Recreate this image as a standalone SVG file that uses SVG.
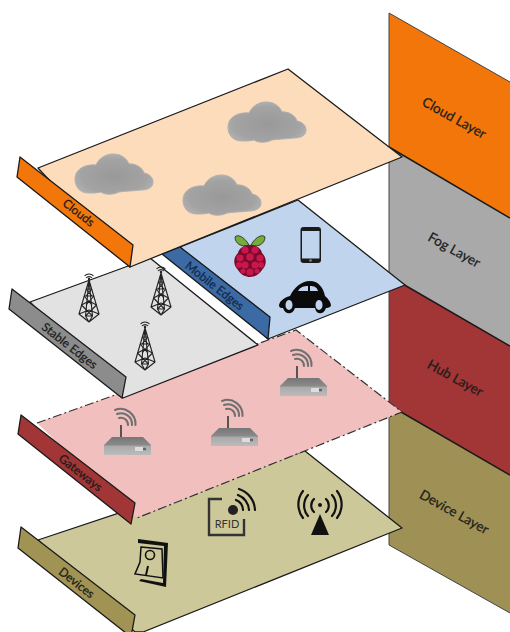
<svg xmlns="http://www.w3.org/2000/svg" width="510" height="632" viewBox="0 0 510 632">
<style>
.e{stroke:#1a1a1a;stroke-width:1.3;stroke-linejoin:round}
.dd{stroke:#333;stroke-width:1.2;stroke-dasharray:9 3 2 3}
.t{font-family:Lato,"Liberation Sans",sans-serif;fill:#1c1c1c;stroke:#1c1c1c;stroke-width:0.25;text-anchor:middle}
.s{font-size:12px}.l{font-size:13.5px}
.tw{fill:none;stroke:#222;stroke-width:1.1;stroke-linejoin:round}
.arc{fill:none;stroke:#6f6f6f;stroke-width:2;stroke-linecap:round}
.k{fill:none;stroke:#111;stroke-width:2.2;stroke-linecap:round}
</style>
<defs>
<radialGradient id="cg" cx="50%" cy="55%" r="60%"><stop offset="0" stop-color="#999"/><stop offset="0.7" stop-color="#a3a3a3"/><stop offset="1" stop-color="#b4b4b4"/></radialGradient>
<linearGradient id="rg" x1="0" y1="0" x2="0" y2="1"><stop offset="0" stop-color="#777"/><stop offset="0.45" stop-color="#8a8a8a"/><stop offset="0.5" stop-color="#aaa"/><stop offset="1" stop-color="#bbb"/></linearGradient>
<symbol id="cloud" overflow="visible">
<path d="M14,39C4,39 0,32 0,25C0,15 10,10 21,11C24,4 31,0 38,0C47,0 52,5 54,10C60,9 68,14 69,19C75,20 78,24 78,28C78,34 72,36 66,36C58,37 50,37 44,38C38,41 30,41 26,38C22,39 18,39 14,39Z" fill="url(#cg)" stroke="#b0b0b0" stroke-width="1"/>
</symbol>
<symbol id="tower" overflow="visible">
<path class="tw" d="M-3,3A4,4 0 0 1 3,3M-4.500,1A6,6 0 0 1 4.500,1"/>
<circle cx="0" cy="4" r="1.200" fill="#222"/>
<path class="tw" d="M0,5L-10,39L0,47L10,39ZM0,5L-3.500,41L0,47L3.500,41Z"/>
<path class="tw" d="M-10,39L0,35L10,39M-3.500,41L3.500,41M-7.500,30L0,26L7.500,30M-7.500,30L3.500,41M7.500,30L-3.500,41M-5,21L5,21M-5,21L3,30M5,21L-3,30M-3,14L3,14M-3,14L3,21M3,14L-3,21"/>
</symbol>
<symbol id="router" overflow="visible">
<path d="M8,0H39L47,8V18H0V8Z" fill="url(#rg)"/>
<rect x="31" y="10" width="11" height="4" fill="#ddd"/><rect x="39" y="10.500" width="3" height="3" fill="#666"/>
<path d="M17,0V-12" stroke="#555" stroke-width="2" fill="none"/>
<path class="arc" d="M15,-19A7,7 0 0 1 24,-12M13,-23A11,11 0 0 1 28,-12M11,-27A15,15 0 0 1 31.500,-12"/>
</symbol>
</defs>

<g id="cloud-layer"><polygon points="389,13 510,82 510,218 389,147" fill="#f2760a"/><text class="t l" transform="translate(452,122) rotate(29)">Cloud Layer</text></g>
<g id="fog-layer"><polygon points="389,147 510,218 510,346 389,276" fill="#a9a9a9"/><text class="t l" transform="translate(452,254) rotate(29)">Fog Layer</text></g>
<g id="hub-layer"><polygon points="389,276 510,346 510,475 389,405" fill="#a23535"/><text class="t l" transform="translate(453,382) rotate(29)">Hub Layer</text></g>
<g id="device-layer"><polygon points="389,405 510,475 510,613 389,545" fill="#9f9155"/><text class="t l" transform="translate(452,516) rotate(29)">Device Layer</text></g>
<g id="layer-dividers" fill="none" stroke="#1a1a1a"><path d="M389,147L510,218M389,276L510,346M389,405L510,475" stroke-width="1.500"/><path d="M389,13L510,82M389,545L510,613M389,13V545" stroke-width="1" stroke="#444"/></g>

<g id="devices">
<polygon class="e" points="38,540 305,451 402,528 143,632 135,632" fill="#cdc89a"/>
<polygon class="e" points="21,527 18,548 131,637 135,615" fill="#a09353"/>
<text class="t s" transform="translate(74,586) rotate(38)">Devices</text>
<g id="switch">
<path d="M138,539L168,543L166,587L139,581L141,579L163,583L164,546L138,543Z" fill="#111"/>
<path d="M141,547L162,549L163,578L135,574L140,562Z" fill="none" stroke="#111" stroke-width="1.500"/>
<circle cx="150" cy="555" r="4.500" fill="none" stroke="#111" stroke-width="1.600"/>
<path d="M148,566L146,575" stroke="#111" stroke-width="2"/>
</g>
<g id="rfid">
<path d="M222,499H209V535H244V519" fill="none" stroke="#333" stroke-width="2.400"/>
<circle cx="233" cy="510" r="5" fill="#222"/>
<path class="k" d="M236,500A11,11 0 0 1 243,510M238,495A17,17 0 0 1 249,510M239,489A23,23 0 0 1 255,510" stroke="#222"/>
<text x="227" y="528" font-family="Lato,'Liberation Sans',sans-serif" font-size="11" fill="#333" text-anchor="middle">RFID</text>
</g>
<g id="antenna">
<circle cx="320" cy="505" r="2" fill="#111"/>
<polygon points="320,514 311,535 329,535" fill="#111"/>
<path class="k" d="M314,499A9,9 0 0 0 314,512M326,499A9,9 0 0 1 326,512M308,495A16,16 0 0 0 308,516M332,495A16,16 0 0 1 332,516M303,491A22,22 0 0 0 303,518M337,491A22,22 0 0 1 337,518"/>
</g>
</g>

<g id="gateways">
<polygon points="37,423 296,330 402,412 137,518" fill="#f2bfbf"/>
<path class="dd" fill="none" d="M37,423L296,330L402,412L137,518"/>
<polygon class="e" points="21,415 18,434 131,524 135,503" fill="#a23535"/>
<text class="t s" transform="translate(78,476) rotate(38)">Gateways</text>
<use href="#router" x="104" y="437"/>
<use href="#router" x="211" y="428"/>
<use href="#router" x="280" y="378"/>
</g>

<g id="stable-edges">
<polygon class="e" points="30,302 150,258 258,345 123,398" fill="#e2e2e2"/>
<polygon class="e" points="12,289 9,309 122,398 126,377" fill="#8c8c8c"/>
<text class="t s" transform="translate(67,349) rotate(38)">Stable Edges</text>
<use href="#tower" x="89" y="275"/>
<use href="#tower" x="161" y="268"/>
<use href="#tower" x="145" y="323"/>
</g>

<g id="mobile-edges">
<polygon class="e" points="180,247 298,200 405,285 268,339" fill="#c0d4ee"/>
<polygon class="e" points="162,254 180,247 270,317 268,339" fill="#3b6aa4"/>
<text class="t s" transform="translate(212,289) rotate(38)" style="fill:#13294b;stroke:#13294b">Mobile Edges</text>
<g id="raspberry">
<path d="M249,245C244,236 237,234 235,237C235,243 241,248 249,245Z" fill="#76ad3a" stroke="#222" stroke-width="0.800"/>
<path d="M251,245C256,236 263,234 265,237C265,243 259,248 251,245Z" fill="#76ad3a" stroke="#222" stroke-width="0.800"/>
<path d="M250,245C256,245 261,248 262,253C267,258 267,265 262,270C259,275 254,277 250,277C246,277 241,275 238,270C233,265 233,258 238,253C239,248 244,245 250,245Z" fill="#7a0a2a"/>
<g fill="#c8174e"><circle cx="245" cy="250" r="3.600"/><circle cx="255" cy="250" r="3.600"/><circle cx="240" cy="258" r="3.600"/><circle cx="250" cy="257" r="3.800"/><circle cx="260" cy="258" r="3.600"/><circle cx="239" cy="265" r="3"/><circle cx="245" cy="265" r="3.600"/><circle cx="255" cy="265" r="3.600"/><circle cx="261" cy="265" r="3"/><circle cx="250" cy="272" r="3.600"/><circle cx="243" cy="271" r="2.500"/><circle cx="257" cy="271" r="2.500"/></g>
</g>
<g id="phone">
<rect x="300.500" y="227" width="20.500" height="36" rx="3" fill="#1a1a1a"/>
<rect x="302" y="231" width="17.500" height="27.500" fill="#c0d4ee"/>
<circle cx="310.500" cy="260.500" r="1.300" fill="#888"/>
</g>
<g id="car">
<path d="M279,306C279,302 283,298 290,296C294,288 301,281 310,281C318,281 323,287 325,296C329,299 331,303 331,306C329,308 327,308 326,308C324,315 316,315 315,308H295C293,315 285,315 283,308C281,308 280,308 279,306Z" fill="#0b0b0b"/>
<path d="M298,291C300,287 304,286 308,286V291ZM310,286C314,286 317,287 318,291H310Z" fill="#c0d4ee"/>
<ellipse cx="289" cy="305" rx="3.500" ry="5" fill="#c0d4ee"/><ellipse cx="319" cy="305" rx="3.500" ry="5" fill="#c0d4ee"/>
</g>
</g>

<g id="clouds">
<polygon class="e" points="38,168 288,69 402,157 130,267" fill="#fddcbc"/>
<polygon class="e" points="20,157 17,177 130,267 133,245" fill="#f2760a"/>
<text class="t s" transform="translate(76,216) rotate(38)">Clouds</text>
<use href="#cloud" x="75" y="154"/>
<use href="#cloud" x="183" y="175"/>
<use href="#cloud" x="228" y="102"/>
</g>
</svg>
